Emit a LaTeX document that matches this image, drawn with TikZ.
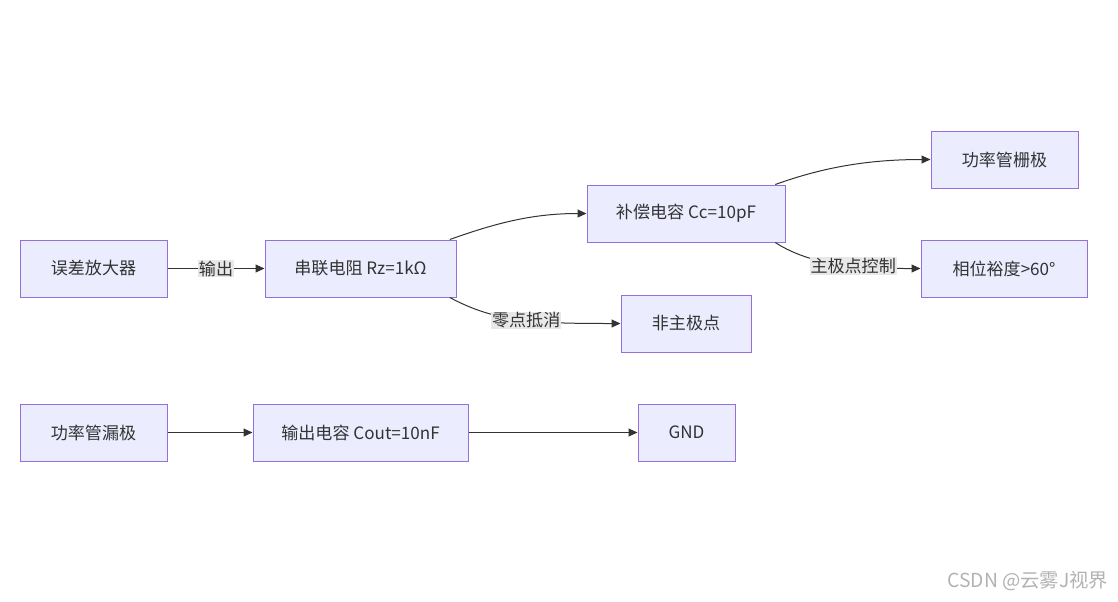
\documentclass[tikz,border=0pt]{standalone}
\usepackage{fontspec}
\setmainfont{Noto Sans CJK SC}
\usetikzlibrary{arrows.meta}
\definecolor{boxfill}{HTML}{ECECFF}
\definecolor{boxline}{HTML}{9370DB}
\definecolor{edgecol}{HTML}{333333}
\definecolor{lblfill}{HTML}{E8E8E8}
\newlength{\px}\setlength{\px}{0.75pt}
\tikzset{
  box/.style={draw=boxline, fill=boxfill, line width=\px, minimum height=57\px,
    inner sep=0pt, text=edgecol, font=\fontsize{12.8}{15}\selectfont},
  edge/.style={draw=edgecol, line width=\px, -{Triangle[length=6.75pt, width=6pt]}},
  lbl/.style={fill=lblfill, inner sep=1\px, text=edgecol, font=\fontsize{12.8}{15}\selectfont}
}
\begin{document}
\begin{tikzpicture}[x=\px, y=-\px]
  \useasboundingbox (0,0) rectangle (1118,601);

  % Boxes of the compensation path
  \node[box, minimum width=147\px] (amp) at (93.5,268.5) {误差放大器};
  \node[box, minimum width=191\px] (rz) at (360.5,268.5) {串联电阻 Rz=1kΩ};
  \node[box, minimum width=198\px] (cc) at (686,213.5) {补偿电容 Cc=10pF};
  \node[box, minimum width=147\px] (gate) at (1004.5,159.5) {功率管栅极};
  \node[box, minimum width=166\px] (pm) at (1004,268.5) {相位裕度>60°};
  \node[box, minimum width=130\px] (npole) at (686,323.5) {非主极点};

  % Boxes of the output path
  \node[box, minimum width=147\px] (drain) at (93.5,432.5) {功率管漏极};
  \node[box, minimum width=215\px] (cout) at (360.5,432.5) {输出电容 Cout=10nF};
  \node[box, minimum width=97\px] (gnd) at (686.5,432.5) {GND};

  % Connectors
  \draw[edge] (amp) -- node[lbl] (lout) {输出} (rz);
  \draw[edge] (rz.18) .. controls +(45,-16) and +(-55,0) .. (cc.west);
  \draw[edge] (rz.-18) .. controls +(45,24) and +(-90,0) .. node[lbl, pos=0.55] (lzero) {零点抵消} (npole.west);
  \draw[edge] (cc.18) .. controls +(50,-18) and +(-60,0) .. (gate.west);
  \draw[edge] (cc.-18) .. controls +(40,26) and +(-50,0) .. node[lbl, pos=0.56] (lmain) {主极点控制} (pm.west);
  \draw[edge] (drain) -- (cout);
  \draw[edge] (cout) -- (gnd);

  % Watermark
  \node[text=black!30, font=\fontsize{14.5}{17}\selectfont, anchor=east] (mark) at (1113,581) {CSDN @云雾J视界};
\end{tikzpicture}
\end{document}
